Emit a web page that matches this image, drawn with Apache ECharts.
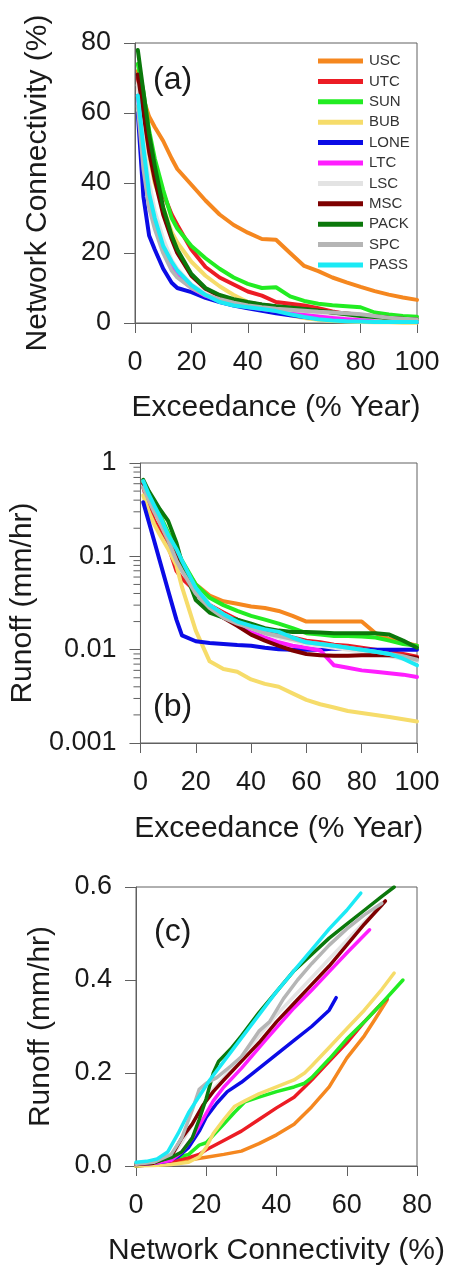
<!DOCTYPE html>
<html>
<head>
<meta charset="utf-8">
<script src="https://cdn.jsdelivr.net/npm/echarts@6/dist/echarts.min.js"></script>
<style>
  html, body { margin: 0; padding: 0; background: #fff; }
  #main { width: 453px; height: 1267px; }
</style>
</head>
<body>
<div id="main"></div>
<script>
'use strict';
var FONT = '"Liberation Sans", Arial, sans-serif';

var sites = ['USC', 'UTC', 'SUN', 'BUB', 'LONE', 'LTC', 'LSC', 'MSC', 'PACK', 'SPC', 'PASS'];
var siteColors = ['#F5871F', '#EC1C24', '#22EC22', '#F6DC6A', '#0B0BE6', '#FF1EFF',
                  '#E3E3E3', '#7E0000', '#0B780B', '#B5B5B5', '#1BEAF5'];

// exceedance (% year), shared by panels (a) and (b)
var exceedance = [1, 3, 5, 7, 10, 13, 15, 20, 25, 30, 35, 40, 45, 50, 55, 60, 65, 70, 75, 80, 85, 90, 95, 100];

// (a) network connectivity (%)
var connUSC  = [72, 64, 59, 56, 52, 47, 44, 39.5, 35, 31, 28, 25.8, 24, 23.8, 20, 16.3, 14.8, 13, 11.6, 10.3, 9.1, 8.1, 7.3, 6.6];
var connUTC  = [70, 62, 50, 44, 37, 31, 28, 21, 16, 13, 11, 9, 7.8, 6, 5.5, 5, 4.2, 3.3, 2.6, 2, 1.6, 1.3, 1.1, 0.9];
var connSUN  = [74, 66, 55, 47, 38, 30, 27, 22, 18.5, 15.5, 13, 11.2, 10, 10.2, 7.6, 6.3, 5.5, 5.1, 4.8, 4.5, 3, 2.4, 2, 1.8];
var connBUB  = [68, 58, 48, 40, 33, 26, 23, 17.5, 13.5, 10.5, 8, 6, 4.5, 3.3, 2.2, 1.4, 0.9, 0.6, 0.4, 0.3, 0.2, 0.2, 0.1, 0.1];
var connLONE = [60, 36, 25, 21, 15.5, 11.5, 10, 8.8, 7.2, 6, 5, 4.2, 3.5, 2.8, 2.2, 1.7, 1.3, 1, 0.8, 0.6, 0.5, 0.4, 0.3, 0.3];
var connLTC  = [65, 48, 36, 29, 21, 16, 13.5, 10, 7.8, 6.3, 5.3, 4.6, 4, 3.5, 3, 2.5, 2, 1.6, 1.3, 1, 0.8, 0.6, 0.5, 0.4];
var connLSC  = [68, 52, 40, 32, 24, 18, 15.5, 11, 8.5, 7, 6, 5.2, 4.6, 4.2, 3.8, 3.4, 3, 2.6, 2.2, 1.9, 1.6, 1.3, 1.1, 0.9];
var connMSC  = [71, 60, 49, 41, 31, 24, 20, 13.5, 9.8, 7.8, 6.6, 5.8, 5.2, 4.7, 4.3, 3.9, 3.5, 3, 2.7, 2.3, 1.9, 1.5, 1.2, 1];
var connPACK = [78, 66, 54, 45, 33, 25, 21, 14, 10, 8, 6.8, 6, 5.3, 4.8, 4.4, 4, 3.5, 3, 2.5, 2, 1.7, 1.4, 1.2, 1];
var connSPC  = [62, 44, 33, 27, 20, 15, 13, 10, 8, 6.8, 5.8, 5, 4.5, 4.1, 3.8, 3.5, 3.2, 3, 2.8, 2.5, 2, 1.5, 1.2, 1];
var connPASS = [65, 50, 37, 30, 22, 17.5, 15, 10.8, 8, 6, 5, 4.5, 4, 3.4, 2.5, 1.7, 1.1, 0.7, 0.5, 0.4, 0.3, 0.3, 0.3, 0.3];

// (b) runoff (mm/hr)
var runUSC  = [0.62, 0.45, 0.33, 0.25, 0.16, 0.11, 0.085, 0.05, 0.038, 0.033, 0.031, 0.029, 0.028, 0.026, 0.023, 0.02, 0.02, 0.02, 0.02, 0.02, 0.015, 0.013, 0.012, 0.011];
var runUTC  = [0.55, 0.35, 0.24, 0.19, 0.13, 0.07, 0.058, 0.042, 0.03, 0.025, 0.021, 0.018, 0.016, 0.015, 0.0135, 0.0125, 0.012, 0.0113, 0.011, 0.0105, 0.01, 0.0095, 0.009, 0.0084];
var runSUN  = [0.62, 0.48, 0.37, 0.28, 0.18, 0.12, 0.09, 0.05, 0.036, 0.03, 0.026, 0.023, 0.021, 0.019, 0.017, 0.015, 0.0145, 0.014, 0.014, 0.0138, 0.0135, 0.0125, 0.0115, 0.011];
var runBUB  = [0.45, 0.3, 0.22, 0.17, 0.12, 0.08, 0.047, 0.016, 0.0075, 0.0062, 0.0058, 0.0048, 0.0043, 0.004, 0.0034, 0.0029, 0.0026, 0.0024, 0.0022, 0.0021, 0.002, 0.0019, 0.0018, 0.0017];
var runLONE = [0.38, 0.235, 0.145, 0.089, 0.043, 0.021, 0.0142, 0.0123, 0.0118, 0.0115, 0.0112, 0.011, 0.0105, 0.0101, 0.01, 0.01, 0.01, 0.0103, 0.0102, 0.01, 0.01, 0.01, 0.01, 0.01];
var runLTC  = [0.6, 0.44, 0.33, 0.25, 0.16, 0.11, 0.08, 0.045, 0.03, 0.023, 0.019, 0.016, 0.0135, 0.012, 0.011, 0.0105, 0.0098, 0.0068, 0.0064, 0.006, 0.0058, 0.0056, 0.0054, 0.0051];
var runLSC  = [0.58, 0.42, 0.32, 0.24, 0.15, 0.1, 0.08, 0.045, 0.03, 0.024, 0.02, 0.017, 0.015, 0.0135, 0.0125, 0.0115, 0.011, 0.0105, 0.01, 0.0095, 0.009, 0.0085, 0.008, 0.0075];
var runMSC  = [0.6, 0.45, 0.33, 0.25, 0.15, 0.1, 0.075, 0.04, 0.028, 0.022, 0.018, 0.0145, 0.0125, 0.011, 0.0098, 0.009, 0.0087, 0.0086, 0.0086, 0.0087, 0.0087, 0.0087, 0.0085, 0.0082];
var runPACK = [0.66, 0.5, 0.4, 0.32, 0.24, 0.14, 0.085, 0.034, 0.025, 0.022, 0.021, 0.019, 0.017, 0.016, 0.0155, 0.0155, 0.0153, 0.015, 0.015, 0.015, 0.015, 0.0145, 0.0125, 0.0105];
var runSPC  = [0.55, 0.4, 0.3, 0.23, 0.15, 0.09, 0.07, 0.04, 0.028, 0.022, 0.019, 0.017, 0.015, 0.014, 0.013, 0.012, 0.0115, 0.011, 0.0105, 0.01, 0.0095, 0.009, 0.0085, 0.0078];
var runPASS = [0.64, 0.46, 0.35, 0.27, 0.17, 0.12, 0.09, 0.046, 0.03, 0.024, 0.02, 0.018, 0.0165, 0.0155, 0.0135, 0.012, 0.0115, 0.011, 0.0105, 0.01, 0.0095, 0.009, 0.008, 0.0068];

// (c) [network connectivity %, runoff mm/hr]
var relUSC  = [[0, 0], [5, 0.003], [10, 0.008], [15, 0.013], [20, 0.019], [25, 0.025], [30, 0.032], [35, 0.048], [40, 0.067], [45, 0.09], [50, 0.127], [55, 0.17], [60, 0.232], [65, 0.28], [68, 0.315], [71.5, 0.357]];
var relUTC  = [[0, 0], [5, 0.003], [10, 0.01], [15, 0.018], [18, 0.025], [20, 0.035], [25, 0.055], [30, 0.075], [35, 0.1], [40, 0.125], [45, 0.148], [48, 0.17], [50, 0.185], [55, 0.225], [60, 0.265], [65, 0.31], [70, 0.35], [71.5, 0.36]];
var relSUN  = [[0, 0], [5, 0.005], [10, 0.015], [15, 0.025], [18, 0.045], [20, 0.05], [25, 0.09], [28, 0.115], [31, 0.138], [35, 0.148], [40, 0.16], [45, 0.17], [48, 0.178], [50, 0.19], [55, 0.23], [60, 0.273], [65, 0.31], [70, 0.35], [76, 0.4]];
var relBUB  = [[0, 0], [5, 0.001], [10, 0.003], [15, 0.008], [18, 0.02], [20, 0.04], [22, 0.07], [25, 0.1], [28, 0.128], [31, 0.14], [35, 0.155], [40, 0.17], [45, 0.185], [48, 0.2], [50, 0.215], [55, 0.255], [60, 0.295], [65, 0.335], [70, 0.38], [73.5, 0.415]];
var relLONE = [[0, 0.004], [5, 0.006], [9, 0.01], [12, 0.02], [15, 0.04], [18, 0.075], [20, 0.105], [23, 0.135], [26, 0.16], [30, 0.18], [35, 0.21], [40, 0.24], [45, 0.27], [50, 0.3], [55, 0.335], [57, 0.362]];
var relLTC  = [[0, 0.003], [5, 0.006], [10, 0.012], [13, 0.03], [16, 0.06], [19, 0.1], [22, 0.14], [25, 0.17], [30, 0.21], [37, 0.272], [45, 0.34], [50, 0.378], [55, 0.418], [60, 0.458], [66.5, 0.508]];
var relLSC  = [[0, 0.003], [5, 0.007], [10, 0.02], [13, 0.05], [16, 0.09], [19, 0.13], [22, 0.165], [25, 0.19], [30, 0.235], [35, 0.28], [40, 0.325], [45, 0.365], [50, 0.405], [55, 0.445], [60, 0.485], [65, 0.525], [70, 0.56]];
var relMSC  = [[0, 0.003], [5, 0.006], [10, 0.02], [13, 0.06], [16, 0.09], [19, 0.13], [22, 0.16], [25, 0.185], [30, 0.225], [35, 0.265], [40, 0.31], [45, 0.35], [50, 0.39], [55, 0.43], [60, 0.475], [65, 0.52], [71, 0.57]];
var relPACK = [[0, 0.005], [5, 0.008], [10, 0.018], [13, 0.03], [16, 0.06], [18, 0.1], [20, 0.145], [22, 0.2], [23.5, 0.225], [27, 0.252], [30, 0.28], [35, 0.33], [40, 0.375], [45, 0.42], [50, 0.455], [55, 0.49], [60, 0.52], [65, 0.55], [70, 0.58], [73.5, 0.6]];
var relSPC  = [[0, 0.004], [5, 0.008], [10, 0.025], [13, 0.06], [16, 0.12], [18, 0.165], [20, 0.178], [23, 0.19], [27, 0.215], [30, 0.235], [35, 0.29], [38, 0.31], [42, 0.36], [46, 0.4], [50, 0.435], [55, 0.475], [60, 0.51], [65, 0.54], [70, 0.565]];
var relPASS = [[0, 0.008], [3, 0.01], [6, 0.015], [9, 0.03], [12, 0.07], [15, 0.115], [18, 0.15], [21, 0.185], [25, 0.225], [30, 0.275], [35, 0.325], [40, 0.375], [45, 0.42], [50, 0.465], [55, 0.51], [60, 0.55], [64, 0.587]];

// minor ticks on the log axis of (b)
var minorTicksB = [0.002, 0.003, 0.004, 0.005, 0.006, 0.007, 0.008, 0.009,
                   0.02, 0.03, 0.04, 0.05, 0.06, 0.07, 0.08, 0.09,
                   0.2, 0.3, 0.4, 0.5, 0.6, 0.7, 0.8, 0.9];

var connSeries = [connUSC, connUTC, connSUN, connBUB, connLONE, connLTC, connLSC, connMSC, connPACK, connSPC, connPASS];
var runSeries = [runUSC, runUTC, runSUN, runBUB, runLONE, runLTC, runLSC, runMSC, runPACK, runSPC, runPASS];
var relSeries = [relUSC, relUTC, relSUN, relBUB, relLONE, relLTC, relLSC, relMSC, relPACK, relSPC, relPASS];

var AXIS_COLOR = '#606060';
var TEXT_COLOR = '#1a1a1a';

function pairs(xs, ys) {
  return xs.map(function (x, i) { return [x, ys[i]]; });
}

function lineSeries(i, data, g, w) {
  return {
    type: 'line', name: sites[i], xAxisIndex: g, yAxisIndex: g,
    data: data, symbol: 'none', showSymbol: false, smooth: false,
    color: siteColors[i],
    lineStyle: { color: siteColors[i], width: w, join: 'round', cap: 'round' },
    emphasis: { disabled: true }
  };
}

function xAxisFor(g, max, name, gap) {
  return {
    type: 'value', gridIndex: g, min: 0, max: max, interval: 20,
    name: name, nameLocation: 'middle', nameGap: gap,
    nameTextStyle: { fontFamily: FONT, fontSize: 30, color: TEXT_COLOR },
    axisLine: { show: true, onZero: false, lineStyle: { color: AXIS_COLOR, width: 1 } },
    axisTick: { show: true, inside: false, length: 10, lineStyle: { color: AXIS_COLOR } },
    axisLabel: { fontFamily: FONT, fontSize: 27, color: TEXT_COLOR, margin: 26 },
    splitLine: { show: false }
  };
}

function yAxisBase(g, name, gap) {
  return {
    gridIndex: g, name: name, nameLocation: 'middle', nameGap: gap,
    nameTextStyle: { fontFamily: FONT, fontSize: 30, color: TEXT_COLOR },
    axisLine: { show: true, onZero: false, lineStyle: { color: AXIS_COLOR, width: 1 } },
    axisTick: { show: true, inside: false, length: 11, lineStyle: { color: AXIS_COLOR } },
    axisLabel: { fontFamily: FONT, fontSize: 27, color: TEXT_COLOR, margin: 24 },
    splitLine: { show: false }
  };
}

var yA = yAxisBase(0, 'Network Connectivity (%)', 82);
yA.type = 'value'; yA.min = 0; yA.max = 80; yA.interval = 20;

var yB = yAxisBase(1, 'Runoff (mm/hr)', 96);
yB.type = 'log'; yB.logBase = 10; yB.min = 0.001; yB.max = 1;

var yC = yAxisBase(2, 'Runoff (mm/hr)', 80);
yC.type = 'value'; yC.min = 0; yC.max = 0.6; yC.interval = 0.2;
yC.axisLabel.formatter = function (v) { return v.toFixed(1); };

var series = [];
sites.forEach(function (s, i) { series.push(lineSeries(i, pairs(exceedance, connSeries[i]), 0, 4)); });
sites.forEach(function (s, i) { series.push(lineSeries(i, pairs(exceedance, runSeries[i]), 1, 4)); });
sites.forEach(function (s, i) { series.push(lineSeries(i, relSeries[i], 2, 3.5)); });

series.push({
  type: 'custom', xAxisIndex: 1, yAxisIndex: 1, silent: true, clip: false, z: 5,
  data: minorTicksB.map(function (v) { return [0, v]; }),
  renderItem: function (params, api) {
    var p = api.coord([0, api.value(1)]);
    return {
      type: 'line',
      shape: { x1: p[0] - 7, y1: p[1], x2: p[0], y2: p[1] },
      style: { stroke: AXIS_COLOR, lineWidth: 1 }
    };
  }
});

var gridStyle = { show: true, borderColor: AXIS_COLOR, borderWidth: 1, backgroundColor: 'transparent', containLabel: false };

var chart = echarts.init(document.getElementById('main'), null, { renderer: 'canvas' });
chart.setOption({
  animation: false,
  backgroundColor: '#ffffff',
  grid: [
    Object.assign({ left: 135, top: 43, width: 282, height: 280 }, gridStyle),
    Object.assign({ left: 136, top: 463, width: 281, height: 280 }, gridStyle),
    Object.assign({ left: 136, top: 887, width: 281, height: 281 }, gridStyle)
  ],
  xAxis: [
    xAxisFor(0, 100, 'Exceedance (% Year)', 70),
    xAxisFor(1, 100, 'Exceedance (% Year)', 71),
    xAxisFor(2, 80, 'Network Connectivity (%)', 70)
  ],
  yAxis: [yA, yB, yC],
  legend: {
    data: sites, orient: 'vertical', left: 313, top: 48,
    icon: 'rect', itemWidth: 45, itemHeight: 5, itemGap: 4.4,
    selectedMode: false,
    textStyle: { fontFamily: FONT, fontSize: 15, color: '#333', lineHeight: 16, padding: [0, 0, 0, 1] }
  },
  graphic: [
    { type: 'text', left: 153, top: 64, style: { text: '(a)', font: '32px ' + FONT, fill: TEXT_COLOR } },
    { type: 'text', left: 153, top: 691, style: { text: '(b)', font: '32px ' + FONT, fill: TEXT_COLOR } },
    { type: 'text', left: 154, top: 916, style: { text: '(c)', font: '32px ' + FONT, fill: TEXT_COLOR } }
  ],
  series: series
});
</script>
</body>
</html>
